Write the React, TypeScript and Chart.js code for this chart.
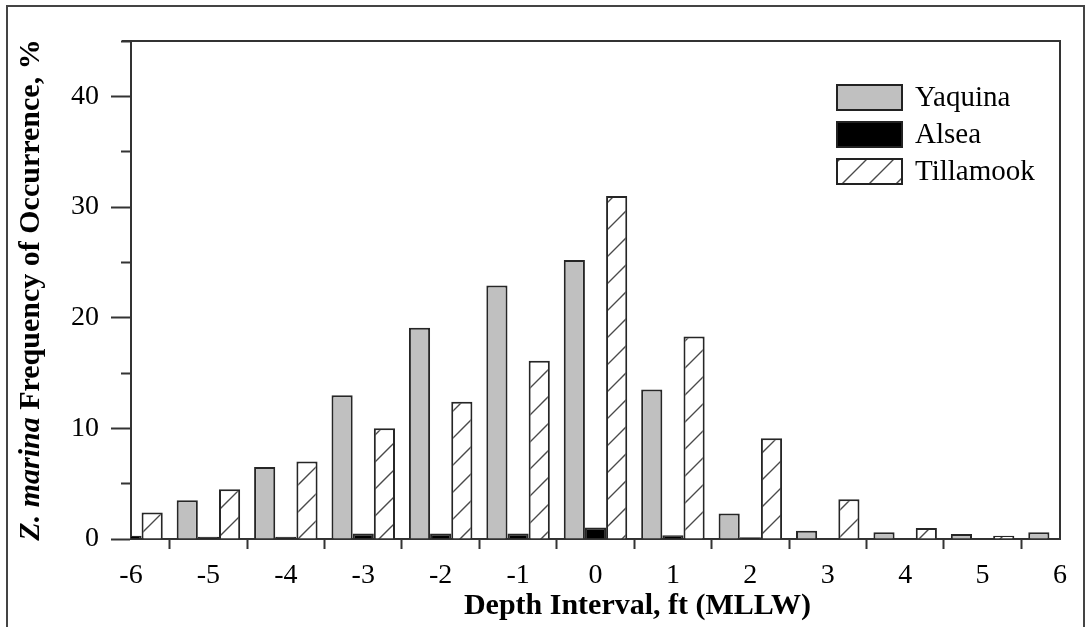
import React, { useEffect, useRef } from "react";
import { Chart, registerables } from "chart.js";

Chart.register(...registerables);

// ---- data ----
const depthLabels: string[] = ["-6", "-5", "-4", "-3", "-2", "-1", "0", "1", "2", "3", "4", "5", "6"];
const seriesNames: string[] = ["Yaquina", "Alsea", "Tillamook"];
// -6 Yaquina and 6 Tillamook lie outside the plotted range (clipped), so not readable
const yaquinaValues: (number | null)[] = [null, 3.5, 6.5, 13.0, 19.1, 22.9, 25.2, 13.5, 2.3, 0.75, 0.6, 0.45, 0.6];
const alseaValues: (number | null)[] = [0.3, 0.2, 0.2, 0.5, 0.5, 0.5, 1.05, 0.35, 0.15, 0, 0, 0, 0];
const tillamookValues: (number | null)[] = [2.4, 4.5, 7.0, 10.0, 12.4, 16.1, 31.0, 18.3, 9.1, 3.6, 1.0, 0.3, null];

const yMin = 0;
const yMax = 45;
const yMinorStep = 5;
const yLabelStep = 10;

const xTitle = "Depth Interval, ft (MLLW)";
const yTitleItalic = "Z. marina";
const yTitleRest = " Frequency of Occurrence, %";

const FONT = '"Liberation Serif", "Times New Roman", serif';

function makeHatch(size: number): CanvasPattern | string {
  const c = document.createElement("canvas");
  c.width = size;
  c.height = size;
  const g = c.getContext("2d");
  if (!g) return "#fff";
  g.fillStyle = "#ffffff";
  g.fillRect(0, 0, size, size);
  g.strokeStyle = "#4a4a4a";
  g.lineWidth = 1.4;
  g.beginPath();
  g.moveTo(-2, size + 2);
  g.lineTo(size + 2, -2);
  g.moveTo(-2, 2);
  g.lineTo(2, -2);
  g.moveTo(size - 2, size + 2);
  g.lineTo(size + 2, size - 2);
  g.stroke();
  return g.createPattern(c, "repeat") || "#fff";
}

const framePlugin = {
  id: "plotFrame",
  afterDatasetsDraw(chart: any) {
    const { ctx, chartArea: a } = chart;
    ctx.save();
    ctx.strokeStyle = "#333";
    ctx.lineWidth = 2;
    ctx.beginPath();
    ctx.moveTo(a.left - 9, a.top);
    ctx.lineTo(a.right, a.top);
    ctx.lineTo(a.right, a.bottom);
    ctx.stroke();
    ctx.restore();
  },
};

const legendPlugin = {
  id: "insideLegend",
  afterDraw(chart: any) {
    const { ctx, chartArea: a } = chart;
    const x0 = a.right - 224;
    const y0 = a.top + 43;
    ctx.save();
    chart.data.datasets.forEach((ds: any, i: number) => {
      const y = y0 + i * 37;
      ctx.fillStyle = ds.backgroundColor;
      ctx.fillRect(x0, y, 67, 27);
      ctx.strokeStyle = "#222";
      ctx.lineWidth = 2;
      ctx.strokeRect(x0 + 1, y + 1, 65, 25);
      ctx.fillStyle = "#000";
      ctx.font = `29px ${FONT}`;
      ctx.textBaseline = "middle";
      ctx.textAlign = "left";
      ctx.fillText(ds.label, x0 + 79, y + 14);
    });
    ctx.restore();
  },
};

const titlePlugin = {
  id: "axisTitles",
  afterDraw(chart: any) {
    const { ctx, chartArea: a } = chart;
    ctx.save();
    ctx.fillStyle = "#000";
    ctx.textBaseline = "middle";
    // x title
    ctx.font = `bold 30px ${FONT}`;
    ctx.textAlign = "center";
    ctx.fillText(xTitle, (a.left + a.right) / 2 + 42, a.bottom + 67);
    // y title (rotated, mixed style)
    const fItalic = `italic bold 30px ${FONT}`;
    const fBold = `bold 30px ${FONT}`;
    ctx.font = fItalic;
    const w1 = ctx.measureText(yTitleItalic).width;
    ctx.font = fBold;
    const w2 = ctx.measureText(yTitleRest).width;
    const total = w1 + w2;
    ctx.translate(a.left - 100, (a.top + a.bottom) / 2);
    ctx.rotate(-Math.PI / 2);
    ctx.textAlign = "left";
    ctx.font = fItalic;
    ctx.fillText(yTitleItalic, -total / 2, 0);
    ctx.font = fBold;
    ctx.fillText(yTitleRest, -total / 2 + w1, 0);
    ctx.restore();
  },
};

export default function App() {
  const canvasRef = useRef<HTMLCanvasElement | null>(null);

  useEffect(() => {
    const canvas = canvasRef.current;
    if (!canvas) return;
    const hatch = makeHatch(27);
    const common = {
      borderColor: "#262626",
      borderWidth: 2,
      categoryPercentage: 0.82,
      barPercentage: 1.0,
      clip: 0,
    };
    const chart = new Chart(canvas, {
      type: "bar",
      data: {
        labels: depthLabels,
        datasets: [
          { ...common, label: seriesNames[0], data: yaquinaValues, backgroundColor: "#c0c0c0" },
          { ...common, label: seriesNames[1], data: alseaValues, backgroundColor: "#000000" },
          { ...common, label: seriesNames[2], data: tillamookValues, backgroundColor: hatch as any },
        ] as any,
      },
      options: {
        animation: false,
        responsive: false,
        maintainAspectRatio: false,
        devicePixelRatio: 1,
        layout: { padding: { left: 60, top: 41, right: 29, bottom: 0 } },
        plugins: {
          legend: { display: false },
          tooltip: { enabled: false },
        },
        scales: {
          x: {
            type: "category",
            offset: false,
            grid: {
              display: true,
              offset: true,
              drawOnChartArea: false,
              drawTicks: true,
              tickLength: 10,
              tickColor: "#333",
              tickWidth: 2,
            },
            border: { display: true, color: "#333", width: 2 },
            ticks: {
              color: "#000",
              font: { family: FONT, size: 28 },
              padding: 10,
              autoSkip: false,
              maxRotation: 0,
            },
            afterFit: (s: any) => {
              s.height = 88;
            },
          },
          y: {
            min: yMin,
            max: yMax,
            grid: {
              display: true,
              drawOnChartArea: false,
              drawTicks: true,
              tickLength: 20,
              tickColor: "#333",
              tickWidth: 2,
              tickBorderDash: (ctx: any) =>
                ctx.tick && ctx.tick.value % yLabelStep === 0 ? [] : [0, 10, 10, 0],
            },
            border: { display: true, color: "#333", width: 2 },
            ticks: {
              stepSize: yMinorStep,
              color: "#000",
              font: { family: FONT, size: 28 },
              padding: 12,
              callback: (v: any) => (Number(v) % yLabelStep === 0 ? String(v) : ""),
            },
            afterFit: (s: any) => {
              s.width = 71;
            },
          },
        },
      } as any,
      plugins: [framePlugin, legendPlugin, titlePlugin],
    });
    return () => chart.destroy();
  }, []);

  return (
    <div
      style={{
        position: "fixed",
        left: 0,
        top: 0,
        width: 1089,
        height: 627,
        background: "#fff",
        overflow: "hidden",
      }}
    >
      <div
        style={{
          position: "absolute",
          left: 6,
          top: 5,
          width: 1079,
          height: 700,
          border: "2px solid #444",
          boxSizing: "border-box",
        }}
      />
      <canvas
        ref={canvasRef}
        width={1089}
        height={627}
        style={{ position: "absolute", left: 0, top: 0, width: 1089, height: 627 }}
      />
    </div>
  );
}
